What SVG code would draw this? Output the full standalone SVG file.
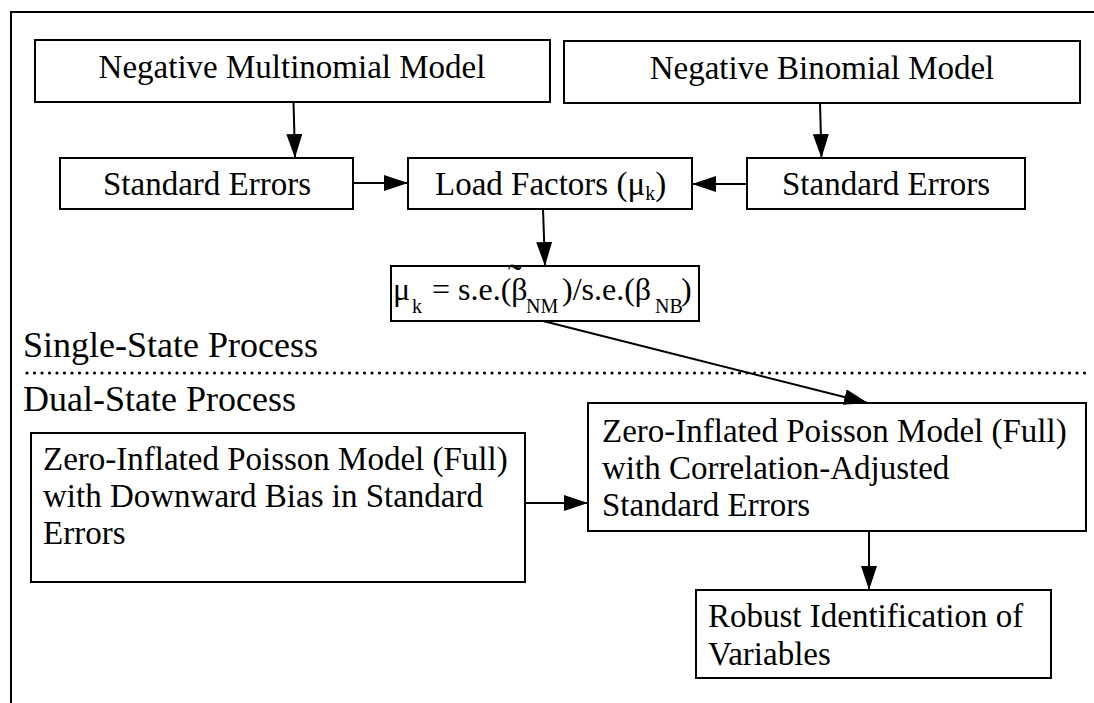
<svg xmlns="http://www.w3.org/2000/svg" width="1094" height="703" viewBox="0 0 1094 703" font-family="'Liberation Serif', 'DejaVu Serif', serif">
<defs>
<style>
.box{fill:#fff;stroke:#000;stroke-width:2}
.t{font-family:'Liberation Serif','DejaVu Serif',serif;font-size:33px;fill:#000}
.sec{font-family:'Liberation Serif','DejaVu Serif',serif;font-size:36px;fill:#000}
.sub{font-size:20px}
.c{text-anchor:middle}
.ln{stroke:#000;stroke-width:2;fill:none}
</style>
<marker id="ah" markerUnits="userSpaceOnUse" markerWidth="24" markerHeight="16" viewBox="0 0 24 16" refX="24" refY="8" orient="auto">
<path d="M0,0 L24,8 L0,16 z" fill="#000"/>
</marker>
</defs>
<rect width="1094" height="703" fill="#fff"/>
<path d="M11,703 L11,12 L1094,12" class="ln"/>

<g id="n-nmm">
<rect class="box" x="35" y="40" width="515" height="62"/>
<text class="t c" x="292" y="78">Negative Multinomial Model</text>
</g>
<g id="n-nb">
<rect class="box" x="564" y="41" width="516" height="62"/>
<text class="t c" x="822" y="79">Negative Binomial Model</text>
</g>
<g id="n-se1">
<rect class="box" x="60" y="158" width="293" height="51"/>
<text class="t c" x="207" y="195">Standard Errors</text>
</g>
<g id="n-lf">
<rect class="box" x="408" y="158" width="284" height="51"/>
<text class="t" x="435" y="195">Load Factors (μ<tspan class="sub" dy="5">k</tspan><tspan dy="-5">)</tspan></text>
</g>
<g id="n-se2">
<rect class="box" x="747" y="158" width="278" height="51"/>
<text class="t c" x="886" y="195">Standard Errors</text>
</g>
<g id="n-formula">
<rect class="box" x="391" y="266" width="308" height="55"/>
<text class="t" style="font-size:32px"><tspan x="393" y="300">μ</tspan><tspan class="sub" x="412" y="313">k</tspan><tspan x="432" y="300">=</tspan><tspan x="458" y="300">s.e.(β</tspan><tspan x="508" y="293" style="font-size:42px">˜</tspan><tspan class="sub" x="526" y="313">NM</tspan><tspan x="562" y="300">)/s.e.(β</tspan><tspan class="sub" x="655" y="313">NB</tspan><tspan x="681" y="300">)</tspan></text>
</g>

<text class="sec" x="23" y="357">Single-State Process</text>
<line x1="27" y1="373" x2="1089" y2="373" stroke="#000" stroke-width="3.2" stroke-linecap="round" stroke-dasharray="0 7.5"/>
<text class="sec" x="23" y="411">Dual-State Process</text>

<g id="n-zip1">
<rect class="box" x="31" y="433" width="494" height="149"/>
<text class="t"><tspan x="43" y="470">Zero-Inflated Poisson Model (Full)</tspan><tspan x="43" y="507">with Downward Bias in Standard</tspan><tspan x="43" y="544">Errors</tspan></text>
</g>
<g id="n-zip2">
<rect class="box" x="588" y="403" width="498" height="128"/>
<text class="t"><tspan x="602" y="442">Zero-Inflated Poisson Model (Full)</tspan><tspan x="602" y="479">with Correlation-Adjusted</tspan><tspan x="602" y="516">Standard Errors</tspan></text>
</g>
<g id="n-robust">
<rect class="box" x="696" y="590" width="355" height="88"/>
<text class="t"><tspan x="708" y="627">Robust Identification of</tspan><tspan x="708" y="665">Variables</tspan></text>
</g>

<g id="connectors">
<line class="ln" x1="293.5" y1="102" x2="295" y2="158" marker-end="url(#ah)"/>
<line class="ln" x1="820" y1="103" x2="821.5" y2="158" marker-end="url(#ah)"/>
<line class="ln" x1="353" y1="183" x2="408" y2="183" marker-end="url(#ah)"/>
<line class="ln" x1="747" y1="184" x2="692" y2="184" marker-end="url(#ah)"/>
<line class="ln" x1="543" y1="209" x2="545" y2="266" marker-end="url(#ah)"/>
<line class="ln" x1="543" y1="321" x2="868" y2="403" marker-end="url(#ah)"/>
<line class="ln" x1="525" y1="503" x2="588" y2="503" marker-end="url(#ah)"/>
<line class="ln" x1="869" y1="531" x2="869" y2="590" marker-end="url(#ah)"/>
</g>
</svg>
